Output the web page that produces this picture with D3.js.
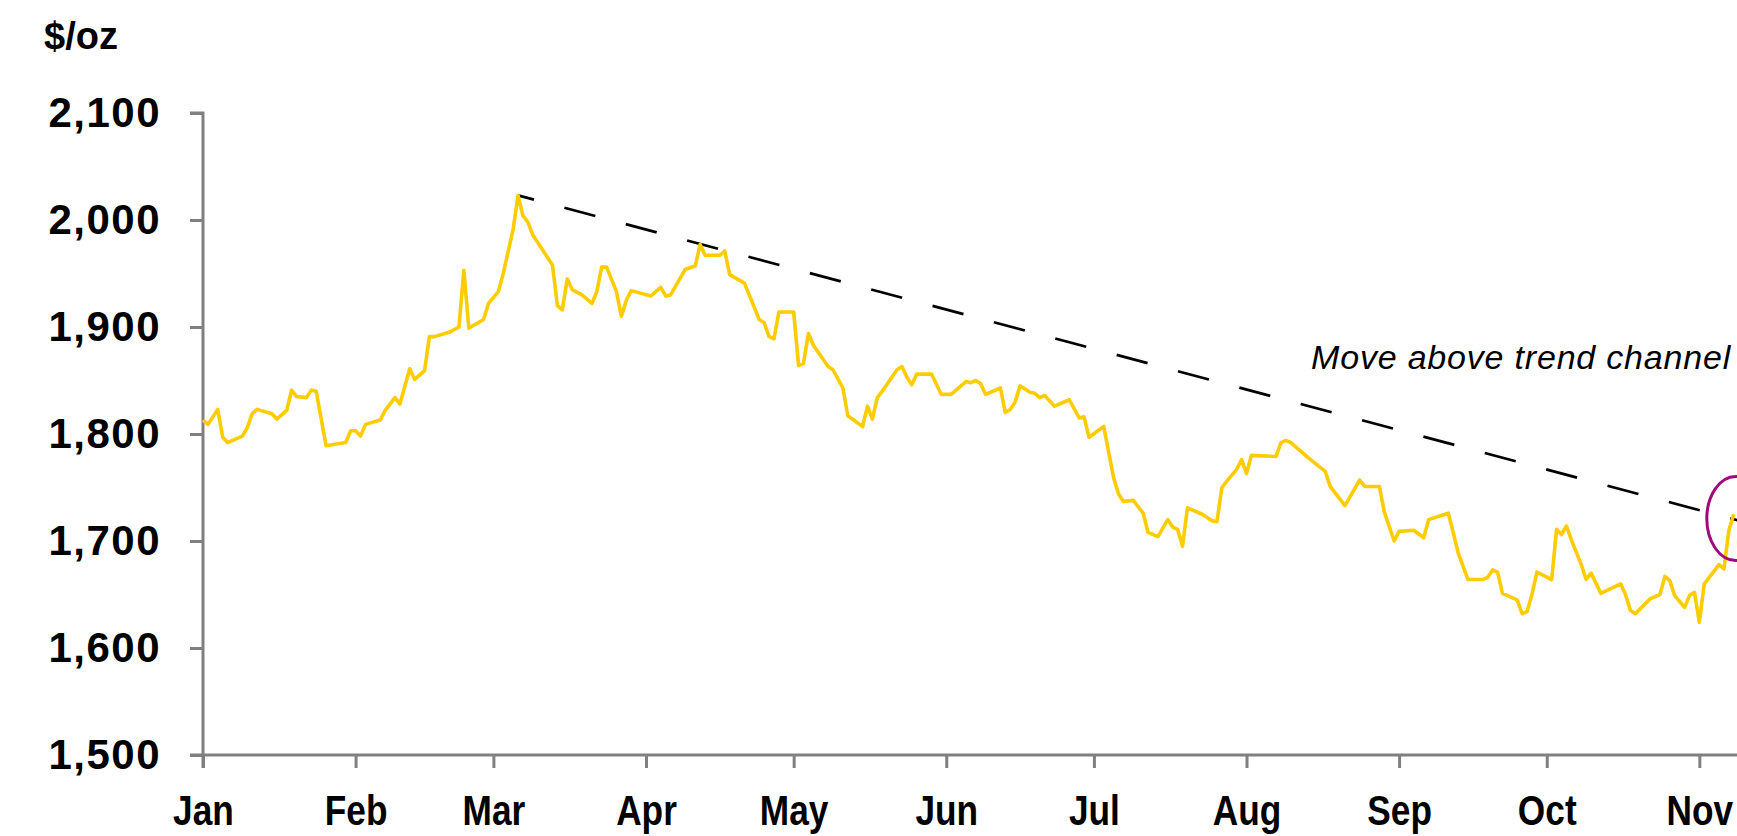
<!DOCTYPE html>
<html>
<head>
<meta charset="utf-8">
<script src="https://cdn.jsdelivr.net/npm/d3@7"></script>
<style>
  html, body { margin: 0; padding: 0; background: #fff; overflow: hidden; }
  svg { display: block; }
</style>
</head>
<body>
<svg id="chart" width="1737" height="836"></svg>
<script>
// ---------- DATA ----------
const dates = [
  "2022-01-01","2022-01-02","2022-01-04","2022-01-05","2022-01-06","2022-01-09","2022-01-10","2022-01-11","2022-01-12","2022-01-15",
  "2022-01-16","2022-01-18","2022-01-19","2022-01-20","2022-01-22","2022-01-23","2022-01-24","2022-01-26","2022-01-30","2022-01-31",
  "2022-02-01","2022-02-02","2022-02-03","2022-02-06","2022-02-07","2022-02-09","2022-02-10","2022-02-12","2022-02-13","2022-02-15",
  "2022-02-16","2022-02-17","2022-02-20","2022-02-22","2022-02-23","2022-02-24","2022-02-27","2022-02-28","2022-03-02","2022-03-03",
  "2022-03-05","2022-03-06","2022-03-07","2022-03-08","2022-03-09","2022-03-13","2022-03-14","2022-03-15","2022-03-16","2022-03-17",
  "2022-03-19","2022-03-21","2022-03-22","2022-03-23","2022-03-24","2022-03-26","2022-03-27","2022-03-28","2022-03-29","2022-04-02",
  "2022-04-04","2022-04-05","2022-04-06","2022-04-09","2022-04-11","2022-04-12","2022-04-13","2022-04-16","2022-04-17","2022-04-18",
  "2022-04-21","2022-04-24","2022-04-25","2022-04-26","2022-04-27","2022-04-28","2022-05-01","2022-05-02","2022-05-03","2022-05-04",
  "2022-05-05","2022-05-08","2022-05-09","2022-05-11","2022-05-12","2022-05-15","2022-05-16","2022-05-17","2022-05-18","2022-05-19",
  "2022-05-22","2022-05-23","2022-05-24","2022-05-25","2022-05-26","2022-05-29","2022-05-31","2022-06-02","2022-06-05","2022-06-06",
  "2022-06-07","2022-06-08","2022-06-09","2022-06-12","2022-06-13","2022-06-14","2022-06-15","2022-06-16","2022-06-18","2022-06-19",
  "2022-06-20","2022-06-21","2022-06-23","2022-06-26","2022-06-28","2022-06-29","2022-06-30","2022-07-03","2022-07-05","2022-07-06",
  "2022-07-07","2022-07-09","2022-07-11","2022-07-12","2022-07-14","2022-07-16","2022-07-17","2022-07-18","2022-07-19","2022-07-20",
  "2022-07-23","2022-07-25","2022-07-26","2022-07-27","2022-07-28","2022-07-30","2022-07-31","2022-08-01","2022-08-02","2022-08-07",
  "2022-08-08","2022-08-09","2022-08-10","2022-08-14","2022-08-17","2022-08-18","2022-08-21","2022-08-22","2022-08-24","2022-08-25",
  "2022-08-28","2022-08-29","2022-08-31","2022-09-01","2022-09-04","2022-09-06","2022-09-07","2022-09-11","2022-09-12","2022-09-13",
  "2022-09-15","2022-09-18","2022-09-19","2022-09-20","2022-09-21","2022-09-22","2022-09-25","2022-09-26","2022-09-27","2022-09-28",
  "2022-09-29","2022-10-02","2022-10-03","2022-10-04","2022-10-05","2022-10-06","2022-10-08","2022-10-09","2022-10-10","2022-10-12",
  "2022-10-16","2022-10-17","2022-10-18","2022-10-19","2022-10-22","2022-10-24","2022-10-25","2022-10-26","2022-10-27","2022-10-29",
  "2022-10-30","2022-10-31","2022-11-01","2022-11-02","2022-11-05","2022-11-06","2022-11-07","2022-11-08"
];
const goldPrice = [
  1813,1809,1823,1797,1792,1798,1806,1819,1823,1819,
  1814,1822,1841,1835,1834,1841,1840,1789,1792,1803,
  1803,1798,1809,1813,1822,1834,1828,1861,1851,1859,
  1891,1891,1895,1900,1953,1899,1907,1922,1933,1950,
  1991,2023,2004,1998,1986,1958,1920,1916,1945,1935,
  1930,1922,1933,1956,1956,1933,1910,1925,1934,1929,
  1937,1929,1930,1954,1957,1977,1967,1967,1971,1949,
  1941,1907,1904,1891,1889,1914,1914,1864,1866,1894,
  1883,1863,1860,1843,1817,1807,1826,1814,1834,1840,
  1860,1863,1853,1846,1856,1856,1837,1837,1849,1848,
  1850,1847,1837,1843,1820,1823,1830,1845,1839,1838,
  1834,1836,1826,1832,1815,1816,1797,1807,1759,1744,
  1737,1738,1726,1708,1704,1720,1713,1711,1695,1731,
  1725,1719,1718,1750,1756,1767,1776,1763,1780,1779,
  1792,1794,1792,1776,1765,1751,1733,1741,1757,1751,
  1751,1727,1700,1709,1710,1703,1720,1726,1708,1689,
  1664,1664,1666,1673,1671,1651,1645,1632,1634,1650,
  1671,1664,1711,1706,1714,1701,1678,1664,1670,1651,
  1660,1650,1635,1632,1646,1650,1667,1663,1649,1638,
  1649,1652,1624,1660,1678,1674,1710,1725
];
const trendDates = ["2022-03-06", "2022-11-09"];
const trendValues = [2023, 1719];
const yTicks = [1500, 1600, 1700, 1800, 1900, 2000, 2100];
const unitLabel = "$/oz";
const annotation = "Move above trend channel";
const highlightDate = "2022-11-08";
const highlightValue = 1721;

// ---------- CHART ----------
const parse = d3.timeParse("%Y-%m-%d");
const svg = d3.select("#chart");

const x = d3.scaleTime()
  .domain([parse("2022-01-01"), parse("2022-12-01")])
  .range([203, 1847]);
const y = d3.scaleLinear().domain([1500, 2100]).range([755, 113]);

const axisColor = "#808080";

// Y axis
const yAxis = svg.append("g")
  .attr("transform", "translate(203,0)")
  .call(d3.axisLeft(y).tickValues(yTicks).tickSize(13).tickSizeOuter(0)
        .tickFormat(d3.format(",")));
yAxis.selectAll("path, line").attr("stroke", axisColor).attr("stroke-width", 3);
yAxis.select(".domain").attr("d", `M-13,${y(2100)}H0V${y(1500) + 13}`);
yAxis.selectAll("text")
  .attr("x", -42).attr("dy", "0.32em")
  .attr("fill", "#000")
  .style("font-family", "'Liberation Sans', Arial, sans-serif")
  .style("font-weight", "bold")
  .style("font-size", "42px")
  .style("letter-spacing", "1.5px");

// X axis
const xAxis = svg.append("g")
  .attr("transform", "translate(0,755)")
  .call(d3.axisBottom(x).ticks(d3.timeMonth.every(1)).tickSize(13).tickSizeOuter(0)
        .tickFormat(d3.timeFormat("%b")));
xAxis.selectAll("path, line").attr("stroke", axisColor).attr("stroke-width", 3);
xAxis.select(".domain").attr("d", `M190,0H1850`);
xAxis.selectAll(".tick").each(function(d) {
  const t = d3.select(this).select("text");
  t.attr("y", 0).attr("dy", 0)
   .attr("transform", "translate(0,70) scale(0.82,1)")
   .attr("fill", "#000")
   .style("font-family", "'Liberation Sans', Arial, sans-serif")
   .style("font-weight", "bold")
   .style("font-size", "43px");
});

// Unit label
svg.append("text")
  .attr("x", 44).attr("y", 49)
  .attr("fill", "#000")
  .style("font-family", "'Liberation Sans', Arial, sans-serif")
  .style("font-weight", "bold")
  .style("font-size", "38px")
  .text(unitLabel);

// Trend line (dashed)
const trend = trendDates.map((d, i) => ({ date: parse(d), value: trendValues[i] }));
svg.append("path")
  .datum(trend)
  .attr("fill", "none")
  .attr("stroke", "#000")
  .attr("stroke-width", 2.7)
  .attr("stroke-dasharray", "32,31.5")
  .attr("stroke-dashoffset", 15.5)
  .attr("d", d3.line().x(d => x(d.date)).y(d => y(d.value)));

// Gold price line
const series = dates.map((d, i) => ({ date: parse(d), value: goldPrice[i] }));
svg.append("path")
  .datum(series)
  .attr("fill", "none")
  .attr("stroke", "#FFCC00")
  .attr("stroke-width", 3.6)
  .attr("stroke-linejoin", "round")
  .attr("d", d3.line().x(d => x(d.date)).y(d => y(d.value)));

// Highlight ellipse
svg.append("ellipse")
  .attr("cx", x(parse(highlightDate)) + 2)
  .attr("cy", y(highlightValue))
  .attr("rx", 29).attr("ry", 42)
  .attr("fill", "none")
  .attr("stroke", "#A0087E")
  .attr("stroke-width", 3);

// Annotation
svg.append("text")
  .attr("x", 1731).attr("y", 369)
  .attr("text-anchor", "end")
  .attr("fill", "#000")
  .style("font-family", "'Liberation Sans', Arial, sans-serif")
  .style("font-style", "italic")
  .style("font-size", "34px")
  .style("letter-spacing", "0.8px")
  .text(annotation);
</script>
</body>
</html>
